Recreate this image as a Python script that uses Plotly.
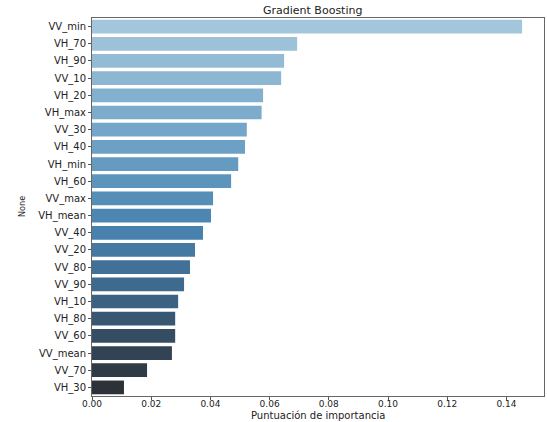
import plotly.graph_objects as go

features = ["VV_min", "VH_70", "VH_90", "VV_10", "VH_20", "VH_max", "VV_30", "VH_40",
            "VH_min", "VH_60", "VV_max", "VH_mean", "VV_40", "VV_20", "VV_80", "VV_90",
            "VH_10", "VH_80", "VV_60", "VV_mean", "VV_70", "VH_30"]
importance = [0.1453, 0.0693, 0.0649, 0.0639, 0.0578, 0.0573, 0.0523, 0.0517,
              0.0494, 0.0470, 0.0409, 0.0402, 0.0375, 0.0348, 0.0331, 0.0311,
              0.0291, 0.0281, 0.0281, 0.0270, 0.0186, 0.0108]
x_ticks = [0.00, 0.02, 0.04, 0.06, 0.08, 0.10, 0.12, 0.14]

# palette anchors (light -> dark), similar to seaborn "Blues_d"
anchors = [(0.0, (164, 198, 220)), (0.35, (106, 158, 196)), (0.55, (72, 132, 176)),
           (0.75, (60, 100, 135)), (0.9, (50, 68, 84)), (1.0, (45, 50, 56))]
n = len(features)
colors = []
for i in range(n):
    t = i / (n - 1)
    for (t0, c0), (t1, c1) in zip(anchors[:-1], anchors[1:]):
        if t0 <= t <= t1:
            f = (t - t0) / (t1 - t0)
            c = [round(a + (b - a) * f) for a, b in zip(c0, c1)]
            colors.append(f"rgb({c[0]},{c[1]},{c[2]})")
            break

fig = go.Figure(go.Bar(
    x=importance, y=features, orientation="h",
    marker=dict(color=colors, line=dict(width=0)),
    width=0.8,
))

W, H = 547, 422
L, R, T, B = 92, 3, 18, 26
pw, ph = W - L - R, H - T - B

fig.update_layout(
    width=W, height=H,
    margin=dict(l=L, r=R, t=T, b=B, autoexpand=False),
    paper_bgcolor="white", plot_bgcolor="white",
    showlegend=False,
    xaxis=dict(range=[0, 0.1527], tickvals=x_ticks,
               ticktext=[f"{v:.2f}" for v in x_ticks],
               ticks="outside", ticklen=3, tickcolor="#555555",
               showline=True, linecolor="#666666", linewidth=1, mirror=True,
               showgrid=False, zeroline=False, automargin=False,
               ticklabelstandoff=-4,
               tickfont=dict(family="DejaVu Sans", size=9, color="#222222")),
    yaxis=dict(range=[n - 0.5, -0.5], type="category",
               ticks="outside", ticklen=3, tickcolor="#555555",
               showline=True, linecolor="#666666", linewidth=1, mirror=True,
               showgrid=False, zeroline=False, automargin=False,
               tickfont=dict(family="DejaVu Sans", size=10, color="#222222")),
    annotations=[
        dict(text="Gradient Boosting", xref="paper", yref="paper",
             x=(312 - L) / pw, y=(H - B - 10) / ph, xanchor="center", yanchor="middle",
             showarrow=False, font=dict(family="DejaVu Sans", size=11, color="#222222")),
        dict(text="Puntuación de importancia", xref="paper", yref="paper",
             x=(318 - L) / pw, y=(H - B - 415) / ph, xanchor="center", yanchor="middle",
             showarrow=False, font=dict(family="DejaVu Sans", size=10, color="#222222")),
        dict(text="None", xref="paper", yref="paper", textangle=-90,
             x=(22 - L) / pw, y=(H - B - 207) / ph, xanchor="center", yanchor="middle",
             showarrow=False, font=dict(family="DejaVu Sans Condensed", size=9, color="#222222")),
    ],
)

fig.write_html("out.html", config={"displayModeBar": False},
               post_script="document.body.style.margin='0';document.body.style.overflow='hidden';")
